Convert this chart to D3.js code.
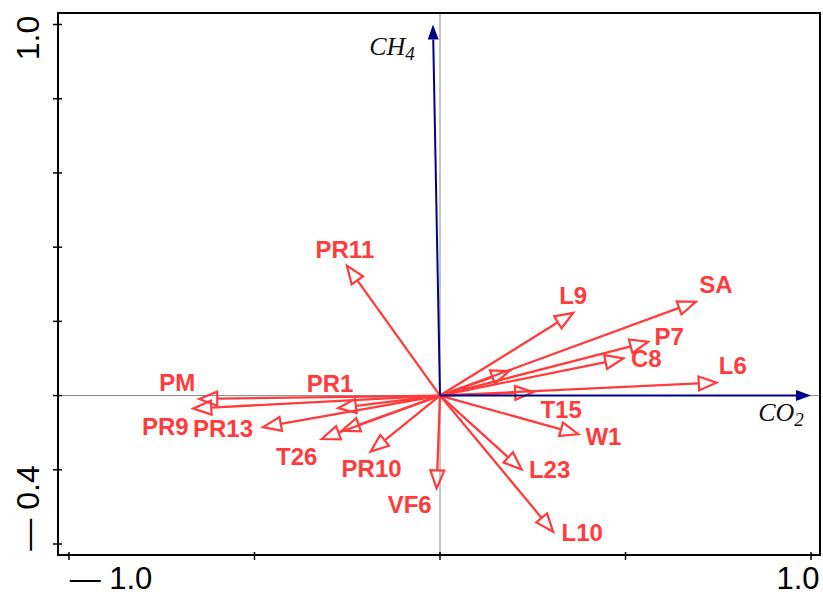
<!DOCTYPE html>
<html>
<head>
<meta charset="UTF-8">
<title>RDA biplot</title>
<style>
  body { margin: 0; background: #fff; }
  svg { display: block; }
</style>
</head>
<body>
<div id="chart"></div>
<script src="https://cdn.jsdelivr.net/npm/d3@7"></script>
<script>
// species / sample arrows (red)
var names = ["PR11", "L9", "SA", "P7", "C8", "L6", "T15", "", "W1", "L23", "L10",
             "VF6", "PR10", "T26", "", "PR13", "PR9", "PM", "PR1"];
var xs = [-0.251, 0.359, 0.690, 0.561, 0.494, 0.746, 0.251, 0.187, 0.373, 0.220, 0.305,
          -0.009, -0.187, -0.319, -0.265, -0.477, -0.665, -0.649, -0.275];
var ys = [0.350, 0.223, 0.253, 0.145, 0.100, 0.035, 0.009, 0.066, -0.104, -0.199, -0.367,
          -0.250, -0.151, -0.117, -0.095, -0.085, -0.035, -0.009, -0.034];

// environmental variables (blue)
var envNames = ["CH", "CO"];
var envSub = ["4", "2"];
var envX = [-0.019, 1.0];
var envY = [1.0, 0.0];

// axis ticks
var xTicks = [-1.0, -0.5, 0, 0.5, 1.0];
var yTicks = [1.0, 0.8, 0.6, 0.4, 0.2, 0, -0.2, -0.4];

var width = 823, height = 597;
var frame = {left: 58, top: 13, right: 820, bottom: 555};
var red = "#ff3b3b", navy = "#000088";

// label offsets from arrow tip, pixels (layout only)
var labelOff = {
  PR11: [-2, -8], L9: [0, -9], SA: [20, -9], P7: [21, 3], C8: [23, 9], L6: [16, -9],
  T15: [28, 26], W1: [25, 11], L23: [28, 9], L10: [29, 9], VF6: [-27, 25],
  PR10: [1, 25], T26: [-25, 26], PR13: [-40, 10], PR9: [-28, 26], PM: [-22, -8], PR1: [-8, -16]
};

var x = d3.scaleLinear().domain([-1, 1]).range([69, 811]);
var y = d3.scaleLinear().domain([-0.4, 1.0]).range([544, 24.5]);

var svg = d3.select("#chart").append("svg")
  .attr("width", width).attr("height", height);

// zero lines
svg.append("line")
  .attr("x1", x(0)).attr("x2", x(0)).attr("y1", frame.top).attr("y2", frame.bottom)
  .attr("stroke", "#8a8a8a").attr("stroke-width", 1);
svg.append("line")
  .attr("x1", frame.left).attr("x2", frame.right).attr("y1", y(0)).attr("y2", y(0))
  .attr("stroke", "#8a8a8a").attr("stroke-width", 1);

// frame
svg.append("rect")
  .attr("x", frame.left).attr("y", frame.top)
  .attr("width", frame.right - frame.left).attr("height", frame.bottom - frame.top)
  .attr("fill", "none").attr("stroke", "#000").attr("stroke-width", 2);

// ticks
svg.selectAll(".ytick").data(yTicks).enter().append("line")
  .attr("class", "ytick")
  .attr("x1", frame.left - 5).attr("x2", frame.left + 4)
  .attr("y1", function(d) { return y(d); }).attr("y2", function(d) { return y(d); })
  .attr("stroke", "#000").attr("stroke-width", 1.5);
svg.selectAll(".xtick").data(xTicks).enter().append("line")
  .attr("class", "xtick")
  .attr("x1", function(d) { return x(d); }).attr("x2", function(d) { return x(d); })
  .attr("y1", frame.bottom - 3).attr("y2", frame.bottom + 5)
  .attr("stroke", "#000").attr("stroke-width", 1.5);

// axis end labels
var axFont = "'Liberation Sans', Arial, sans-serif";
svg.append("text").attr("x", 111).attr("y", 589).attr("text-anchor", "middle")
  .attr("font-family", axFont).attr("font-size", 31).text("\u2014 1.0");
svg.append("text").attr("x", 798).attr("y", 589).attr("text-anchor", "middle")
  .attr("font-family", axFont).attr("font-size", 31).text("1.0");
svg.append("text").attr("transform", "translate(39," + 38 + ") rotate(-90)")
  .attr("text-anchor", "middle")
  .attr("font-family", axFont).attr("font-size", 32).text("1.0");
svg.append("text").attr("transform", "translate(39," + 508 + ") rotate(-90)")
  .attr("text-anchor", "middle")
  .attr("font-family", axFont).attr("font-size", 32).text("\u2014 0.4");

// red arrows
var headLen = 18, headHalf = 7;
var arrows = svg.append("g");
xs.forEach(function(vx, i) {
  var x0 = x(0), y0 = y(0), x1 = x(vx), y1 = y(ys[i]);
  var dx = x1 - x0, dy = y1 - y0, len = Math.sqrt(dx * dx + dy * dy);
  var ux = dx / len, uy = dy / len;
  var bx = x1 - ux * headLen, by = y1 - uy * headLen;
  arrows.append("line")
    .attr("x1", x0).attr("y1", y0).attr("x2", bx).attr("y2", by)
    .attr("stroke", red).attr("stroke-width", 2.3);
  var pts = [[x1, y1], [bx - uy * headHalf, by + ux * headHalf], [bx + uy * headHalf, by - ux * headHalf]];
  arrows.append("polygon")
    .attr("points", pts.map(function(p) { return p.join(","); }).join(" "))
    .attr("fill", "none").attr("stroke", red).attr("stroke-width", 2.2)
    .attr("stroke-linejoin", "miter");
  if (names[i]) {
    var off = labelOff[names[i]];
    arrows.append("text")
      .attr("x", x1 + off[0]).attr("y", y1 + off[1])
      .attr("text-anchor", "middle")
      .attr("font-family", axFont).attr("font-weight", "bold").attr("font-size", 24)
      .attr("fill", red)
      .text(names[i]);
  }
});

// blue environmental arrows
var envLabelPos = [[392, 55], [781, 421]];
envX.forEach(function(vx, i) {
  var x0 = x(0), y0 = y(0), x1 = x(vx), y1 = y(envY[i]);
  var dx = x1 - x0, dy = y1 - y0, len = Math.sqrt(dx * dx + dy * dy);
  var ux = dx / len, uy = dy / len;
  var hl = 15, hh = 5.5;
  var bx = x1 - ux * hl, by = y1 - uy * hl;
  svg.append("line")
    .attr("x1", x0).attr("y1", y0).attr("x2", bx).attr("y2", by)
    .attr("stroke", navy).attr("stroke-width", 2);
  svg.append("polygon")
    .attr("points", [[x1, y1], [bx - uy * hh, by + ux * hh], [bx + uy * hh, by - ux * hh]]
      .map(function(p) { return p.join(","); }).join(" "))
    .attr("fill", navy);
  var t = svg.append("text")
    .attr("x", envLabelPos[i][0]).attr("y", envLabelPos[i][1])
    .attr("text-anchor", "middle")
    .attr("font-family", "'Liberation Serif', 'Times New Roman', serif")
    .attr("font-style", "italic").attr("font-size", 26).attr("fill", "#111");
  t.append("tspan").text(envNames[i]);
  t.append("tspan").attr("dy", 5).attr("font-size", 19).text(envSub[i]);
});
</script>
</body>
</html>
